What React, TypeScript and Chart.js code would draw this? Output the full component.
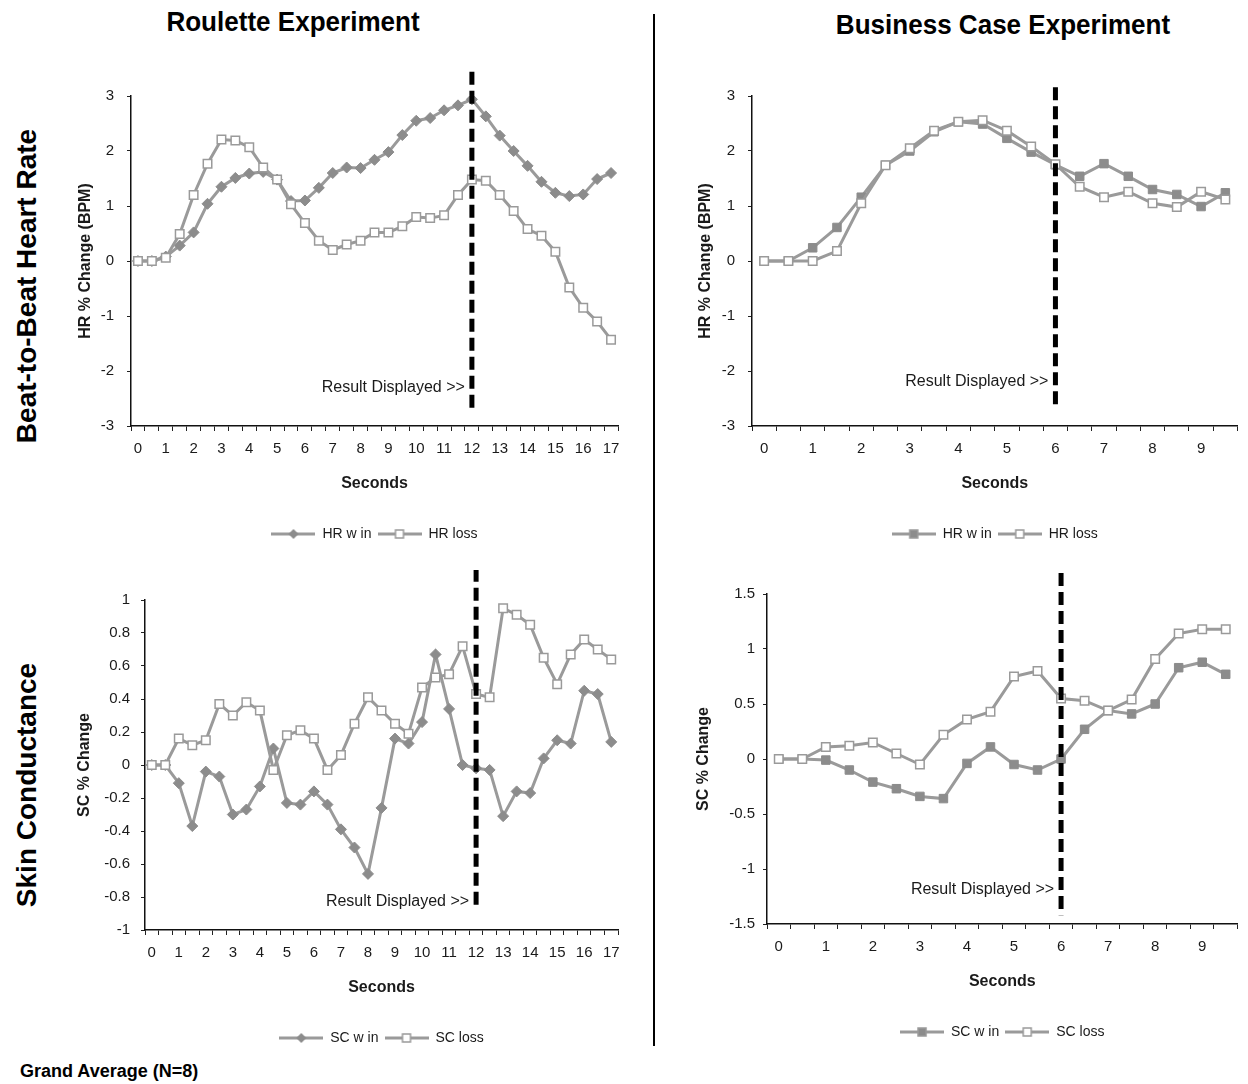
import React, { useEffect, useRef } from 'react';
import { Chart, registerables } from 'chart.js';

Chart.register(...registerables);

const FONT = '"Liberation Sans", Arial, Helvetica, sans-serif';
const LINE = '#9a9a9a';
const MARK = '#8c8c8c';
const TEXT = '#1a1a1a';

// ---- categories (seconds) ----
const rouletteSeconds = ['0', '0.5', '1', '1.5', '2', '2.5', '3', '3.5', '4', '4.5', '5', '5.5', '6', '6.5', '7', '7.5', '8', '8.5', '9', '9.5', '10', '10.5', '11', '11.5', '12', '12.5', '13', '13.5', '14', '14.5', '15', '15.5', '16', '16.5', '17'];
const businessSeconds = ['0', '0.5', '1', '1.5', '2', '2.5', '3', '3.5', '4', '4.5', '5', '5.5', '6', '6.5', '7', '7.5', '8', '8.5', '9', '9.5'];

// ---- series ----
const rouletteHrWin = [0, 0, 0.08, 0.28, 0.52, 1.04, 1.35, 1.51, 1.59, 1.62, 1.48, 1.09, 1.10, 1.33, 1.60, 1.70, 1.69, 1.84, 1.98, 2.29, 2.55, 2.60, 2.74, 2.83, 2.94, 2.63, 2.28, 2.00, 1.73, 1.44, 1.24, 1.18, 1.21, 1.49, 1.60];
const rouletteHrLoss = [0, 0, 0.06, 0.49, 1.20, 1.77, 2.21, 2.19, 2.07, 1.70, 1.48, 1.03, 0.69, 0.37, 0.20, 0.30, 0.37, 0.52, 0.52, 0.63, 0.80, 0.78, 0.83, 1.20, 1.48, 1.46, 1.20, 0.91, 0.58, 0.46, 0.17, -0.48, -0.85, -1.10, -1.43];
const businessHrWin = [0, 0, 0.24, 0.61, 1.16, 1.74, 2.00, 2.35, 2.53, 2.49, 2.23, 1.98, 1.75, 1.54, 1.77, 1.54, 1.30, 1.21, 0.99, 1.24];
const businessHrLoss = [0, 0, 0, 0.18, 1.05, 1.74, 2.05, 2.37, 2.53, 2.56, 2.37, 2.08, 1.76, 1.35, 1.16, 1.26, 1.05, 0.98, 1.26, 1.12];
const rouletteScWin = [0, 0, -0.11, -0.37, -0.04, -0.07, -0.30, -0.27, -0.13, 0.10, -0.23, -0.24, -0.16, -0.24, -0.39, -0.50, -0.66, -0.26, 0.16, 0.13, 0.26, 0.67, 0.34, 0.00, -0.02, -0.03, -0.31, -0.16, -0.17, 0.04, 0.15, 0.13, 0.45, 0.43, 0.14];
const rouletteScLoss = [0, 0, 0.16, 0.12, 0.15, 0.37, 0.30, 0.38, 0.33, -0.03, 0.18, 0.21, 0.16, -0.03, 0.06, 0.25, 0.41, 0.33, 0.25, 0.19, 0.47, 0.53, 0.55, 0.72, 0.43, 0.41, 0.95, 0.91, 0.85, 0.65, 0.49, 0.67, 0.76, 0.70, 0.64];
const businessScWin = [0, 0, -0.01, -0.10, -0.21, -0.27, -0.34, -0.36, -0.04, 0.11, -0.05, -0.10, 0.00, 0.27, 0.44, 0.41, 0.50, 0.83, 0.88, 0.77];
const businessScLoss = [0, 0, 0.11, 0.12, 0.15, 0.05, -0.05, 0.22, 0.36, 0.43, 0.75, 0.80, 0.55, 0.53, 0.44, 0.54, 0.91, 1.14, 1.18, 1.18];

// ---- axis ranges ----
const hrRange = { min: -3, max: 3, step: 1 };
const rouletteScRange = { min: -1, max: 1, step: 0.2 };
const businessScRange = { min: -1.5, max: 1.5, step: 0.5 };

type MarkerKind = 'diamond' | 'filledSquare' | 'openSquare';

type PanelCfg = {
  left: number; top: number; width: number; height: number;
  yWidth: number; yTitlePad: number; yTickPad: number; rightPad: number;
  labels: string[]; win: number[]; loss: number[];
  winLabel: string; lossLabel: string; winMarker: MarkerKind;
  yTitle: string; range: { min: number; max: number; step: number };
  resultAt: string; lineTop: number; lineBottom: number; textY: number;
};

const panels: PanelCfg[] = [
  {
    left: 55, top: 66, width: 580, height: 485, yWidth: 76, yTitlePad: 21, yTickPad: 13, rightPad: 17,
    labels: rouletteSeconds, win: rouletteHrWin, loss: rouletteHrLoss,
    winLabel: 'HR w in', lossLabel: 'HR loss', winMarker: 'diamond',
    yTitle: 'HR % Change (BPM)', range: hrRange,
    resultAt: '12', lineTop: 3.44, lineBottom: -2.76, textY: -2.3,
  },
  {
    left: 675, top: 66, width: 570, height: 485, yWidth: 77, yTitlePad: 21, yTickPad: 13, rightPad: 7,
    labels: businessSeconds, win: businessHrWin, loss: businessHrLoss,
    winLabel: 'HR w in', lossLabel: 'HR loss', winMarker: 'filledSquare',
    yTitle: 'HR % Change (BPM)', range: hrRange,
    resultAt: '6', lineTop: 3.16, lineBottom: -2.62, textY: -2.2,
  },
  {
    left: 55, top: 570, width: 580, height: 485, yWidth: 90, yTitlePad: 20, yTickPad: 11, rightPad: 17,
    labels: rouletteSeconds, win: rouletteScWin, loss: rouletteScLoss,
    winLabel: 'SC w in', lossLabel: 'SC loss', winMarker: 'diamond',
    yTitle: 'SC % Change', range: rouletteScRange,
    resultAt: '12', lineTop: 1.19, lineBottom: -0.86, textY: -0.83,
  },
  {
    left: 675, top: 564, width: 570, height: 485, yWidth: 92, yTitlePad: 19, yTickPad: 8, rightPad: 7,
    labels: businessSeconds, win: businessScWin, loss: businessScLoss,
    winLabel: 'SC w in', lossLabel: 'SC loss', winMarker: 'filledSquare',
    yTitle: 'SC % Change', range: businessScRange,
    resultAt: '6', lineTop: 1.69, lineBottom: -1.42, textY: -1.19,
  },
];

function makeLegendMarker(kind: MarkerKind): HTMLCanvasElement {
  const c = document.createElement('canvas');
  c.width = 44; c.height = 12;
  const g = c.getContext('2d') as CanvasRenderingContext2D;
  g.strokeStyle = LINE; g.lineWidth = 3;
  g.beginPath(); g.moveTo(0, 6); g.lineTo(44, 6); g.stroke();
  if (kind === 'diamond') {
    g.fillStyle = MARK;
    g.beginPath(); g.moveTo(22, 1); g.lineTo(27, 6); g.lineTo(22, 11); g.lineTo(17, 6); g.closePath(); g.fill();
  } else {
    g.fillStyle = kind === 'filledSquare' ? MARK : '#ffffff';
    g.fillRect(18, 2, 8, 8);
    g.strokeStyle = LINE; g.lineWidth = 1.5;
    g.strokeRect(18, 2, 8, 8);
  }
  return c;
}

const resultPlugin = {
  id: 'resultLine',
  afterDatasetsDraw(chart: any, _args: any, opts: any) {
    const { ctx, scales } = chart;
    const x = scales.x; const y = scales.y;
    const px = x.getPixelForValue(opts.index);
    ctx.save();
    ctx.strokeStyle = '#000';
    ctx.lineWidth = 5;
    ctx.setLineDash([13, 6]);
    ctx.beginPath();
    ctx.moveTo(px, y.getPixelForValue(opts.top));
    ctx.lineTo(px, y.getPixelForValue(opts.bottom));
    ctx.stroke();
    ctx.setLineDash([]);
    ctx.font = `16px ${FONT}`;
    ctx.fillStyle = TEXT;
    ctx.textAlign = 'right';
    ctx.textBaseline = 'middle';
    ctx.fillText('Result Displayed >>', px - 7, y.getPixelForValue(opts.textY));
    ctx.restore();
  },
};

function fmt(v: number): string {
  const r = Math.round(v * 10) / 10;
  return String(Object.is(r, -0) ? 0 : r);
}

function Panel({ cfg }: { cfg: PanelCfg }) {
  const ref = useRef<HTMLCanvasElement | null>(null);
  useEffect(() => {
    if (!ref.current) return;
    const winStyle = cfg.winMarker === 'diamond' ? 'rectRot' : 'rect';
    const markers = [makeLegendMarker(cfg.winMarker), makeLegendMarker('openSquare')];
    const chart = new Chart(ref.current, {
      type: 'line',
      data: {
        labels: cfg.labels,
        datasets: [
          {
            label: cfg.winLabel, data: cfg.win, order: 1,
            borderColor: LINE, borderWidth: 3, tension: 0,
            pointStyle: winStyle, pointRadius: cfg.winMarker === 'diamond' ? 5.5 : 6,
            pointBackgroundColor: MARK, pointBorderColor: MARK, pointBorderWidth: 1,
          },
          {
            label: cfg.lossLabel, data: cfg.loss, order: 0,
            borderColor: LINE, borderWidth: 3, tension: 0,
            pointStyle: 'rect', pointRadius: 6,
            pointBackgroundColor: '#ffffff', pointBorderColor: LINE, pointBorderWidth: 1.5,
          },
        ],
      },
      options: {
        responsive: false,
        animation: false,
        events: [],
        layout: { padding: { top: 30, right: cfg.rightPad, left: 0, bottom: 0 } },
        plugins: {
          tooltip: { enabled: false },
          legend: {
            position: 'bottom',
            fullSize: false,
            labels: {
              usePointStyle: true,
              pointStyleWidth: 44,
              padding: 6,
              color: TEXT,
              font: { family: FONT, size: 14 },
              generateLabels: (ch: any) => ch.data.datasets.map((ds: any, i: number) => ({
                text: ds.label, pointStyle: markers[i], fillStyle: 'rgba(0,0,0,0)',
                strokeStyle: 'rgba(0,0,0,0)', lineWidth: 0, hidden: false, datasetIndex: i, fontColor: TEXT,
              })),
            },
          },
          resultLine: {
            index: cfg.labels.indexOf(cfg.resultAt),
            top: cfg.lineTop, bottom: cfg.lineBottom, textY: cfg.textY,
          },
        } as any,
        scales: {
          x: {
            type: 'category',
            offset: true,
            grid: { offset: true, drawOnChartArea: false, drawTicks: true, tickLength: 5, color: '#222', lineWidth: 1 },
            border: { display: true, color: '#111', width: 1.5 },
            ticks: {
              autoSkip: false, maxRotation: 0, minRotation: 0, padding: 9,
              color: TEXT, font: { family: FONT, size: 15 },
              callback: (_v: any, i: number) => {
                const l = cfg.labels[i];
                return Number(l) % 1 === 0 ? l : '';
              },
            },
            title: {
              display: true, text: 'Seconds', color: TEXT,
              font: { family: FONT, size: 16, weight: 'bold' },
              padding: { top: 0, bottom: 28 },
            },
            afterFit: (s: any) => { s.height = 95; },
          },
          y: {
            min: cfg.range.min, max: cfg.range.max,
            grid: { drawOnChartArea: false, drawTicks: true, tickLength: 4, color: '#222', lineWidth: 1 },
            border: { display: true, color: '#111', width: 1.5 },
            ticks: {
              stepSize: cfg.range.step, padding: cfg.yTickPad, color: TEXT,
              font: { family: FONT, size: 15 },
              callback: (v: any) => fmt(Number(v)),
            },
            title: {
              display: true, text: cfg.yTitle, color: TEXT,
              font: { family: FONT, size: 16, weight: 'bold' },
              padding: { top: cfg.yTitlePad, bottom: 0 },
            },
            afterFit: (s: any) => { s.width = cfg.yWidth; },
          },
        },
      } as any,
      plugins: [resultPlugin as any],
    });
    return () => chart.destroy();
  }, [cfg]);
  return (
    <canvas
      ref={ref}
      width={cfg.width}
      height={cfg.height}
      style={{ position: 'absolute', left: cfg.left, top: cfg.top, width: cfg.width, height: cfg.height }}
    />
  );
}

const centered = (x: number, y: number, size: number, rotate = false, squeeze = 1): React.CSSProperties => ({
  position: 'absolute', left: x, top: y, whiteSpace: 'nowrap',
  transform: `translate(-50%, -50%)${rotate ? ' rotate(-90deg)' : ''} scaleX(${squeeze})`,
  fontFamily: FONT, fontWeight: 'bold', fontSize: size, color: '#000', lineHeight: 1,
});

export default function App() {
  return (
    <div style={{ position: 'absolute', left: 0, top: 0, width: 1248, height: 1084, background: '#fff', overflow: 'hidden' }}>
      <div style={centered(293, 22, 28, false, 0.93)}>Roulette Experiment</div>
      <div style={centered(1003, 25, 28, false, 0.93)}>Business Case Experiment</div>
      <div style={centered(27, 286, 28, true)}>Beat-to-Beat Heart Rate</div>
      <div style={centered(27, 785, 28, true)}>Skin Conductance</div>
      <div style={{ position: 'absolute', left: 20, top: 1062, fontFamily: FONT, fontWeight: 'bold', fontSize: 18, lineHeight: 1, whiteSpace: 'nowrap' }}>Grand Average (N=8)</div>
      <div style={{ position: 'absolute', left: 653, top: 14, width: 2, height: 1032, background: '#000' }} />
      {panels.map((p, i) => <Panel key={i} cfg={p} />)}
    </div>
  );
}
